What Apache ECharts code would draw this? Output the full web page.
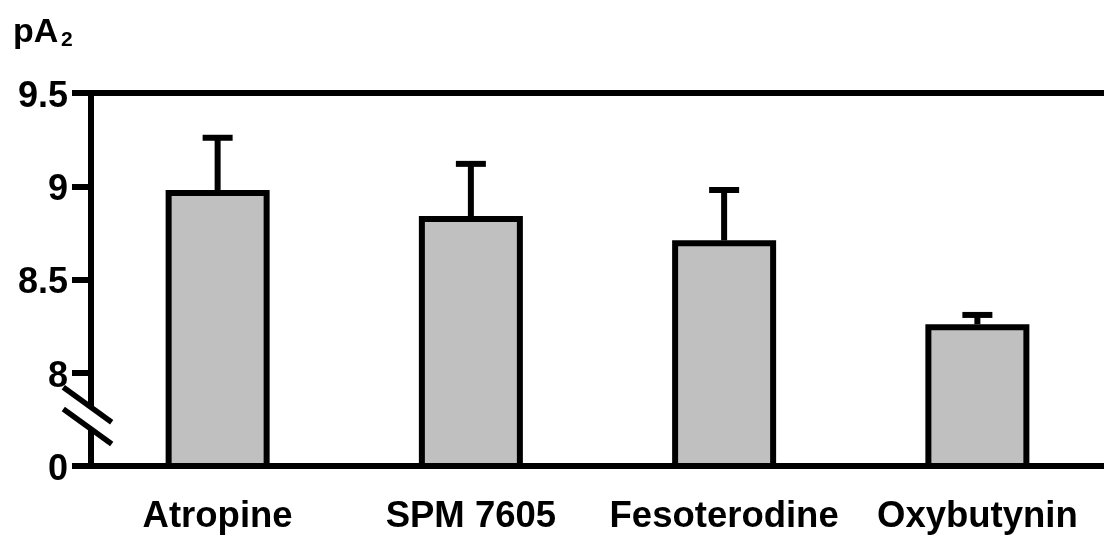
<!DOCTYPE html>
<html>
<head>
<meta charset="utf-8">
<script src="https://cdn.jsdelivr.net/npm/echarts@6/dist/echarts.min.js"></script>
<style>
html,body{margin:0;padding:0;background:#fff;}
#c{width:1104px;height:537px;}
</style>
</head>
<body>
<div id="c"></div>
<script>
const categories = ['Atropine', 'SPM 7605', 'Fesoterodine', 'Oxybutynin'];
const means = [8.98, 8.84, 8.71, 8.26];
const errTops = [9.26, 9.12, 8.98, 8.31];
const yTickLabels = {7.5: '0', 8: '8', 8.5: '8.5', 9: '9', 9.5: '9.5'};

const FONT = 'Liberation Sans, Arial, sans-serif';
const chart = echarts.init(document.getElementById('c'), null, {renderer: 'canvas'});

const errData = categories.map((c, i) => [i, means[i], errTops[i]]);

chart.setOption({
  animation: false,
  backgroundColor: '#ffffff',
  grid: {left: 91, right: -4, top: 93, bottom: 71},
  xAxis: [{
    type: 'category',
    data: categories,
    position: 'bottom',
    axisLine: {show: true, lineStyle: {color: '#000', width: 6}},
    axisTick: {show: false},
    axisLabel: {interval: 0, color: '#000', fontFamily: FONT, fontWeight: 'bold', fontSize: 36.5, margin: 32}
  }, {
    type: 'category',
    data: categories,
    position: 'top',
    axisLine: {show: true, lineStyle: {color: '#000', width: 6}},
    axisTick: {show: false},
    axisLabel: {show: false}
  }],
  yAxis: {
    type: 'value',
    min: 7.5, max: 9.5, interval: 0.5,
    axisLine: {show: true, lineStyle: {color: '#000', width: 6}},
    axisTick: {show: true, length: 19, lineStyle: {color: '#000', width: 6}},
    splitLine: {show: false},
    axisLabel: {
      margin: 23,
      formatter: v => '{t|' + (yTickLabels[v] !== undefined ? yTickLabels[v] : String(v)) + '}',
      rich: {
        t: {color: '#000', fontFamily: FONT, fontWeight: 'bold', fontSize: 36, padding: [8, 0, 0, 0]}
      }
    }
  },
  series: [{
    type: 'bar',
    data: means,
    barWidth: 104,
    itemStyle: {color: '#c0c0c0', borderColor: '#000', borderWidth: 6},
    z: 2
  }, {
    type: 'custom',
    data: errData,
    z: 3,
    renderItem: function (params, api) {
      const x = api.coord([api.value(0), api.value(1)]);
      const top = api.coord([api.value(0), api.value(2)]);
      const half = 15;
      return {
        type: 'group',
        children: [{
          type: 'line',
          shape: {x1: x[0], y1: x[1], x2: top[0], y2: top[1]},
          style: {stroke: '#000', lineWidth: 6}
        }, {
          type: 'line',
          shape: {x1: top[0] - half, y1: top[1], x2: top[0] + half, y2: top[1]},
          style: {stroke: '#000', lineWidth: 6}
        }]
      };
    }
  }]
});

// axis break decoration and y-axis title
const ax = chart.convertToPixel({gridIndex: 0}, [0, 7.77]);
const axisX = 91;
const cy = ax[1];
const dx = 24.2, dy = 17.5, gap = 10.8;
chart.setOption({
  graphic: [
    {type: 'polygon', z: 100, shape: {points: [
      [axisX - 5, cy - gap - 3.6], [axisX + 5, cy - gap + 3.6], [axisX + 5, cy + gap + 3.6], [axisX - 5, cy + gap - 3.6]
    ]}, style: {fill: '#fff'}},
    {type: 'line', z: 101, shape: {x1: axisX - 3.5 - dx, y1: cy - gap - dy, x2: axisX - 3.5 + dx, y2: cy - gap + dy}, style: {stroke: '#000', lineWidth: 5.5}},
    {type: 'line', z: 101, shape: {x1: axisX - 3.5 - dx, y1: cy + gap - dy, x2: axisX - 3.5 + dx, y2: cy + gap + dy}, style: {stroke: '#000', lineWidth: 5.5}},
    {type: 'text', z: 101, style: {text: 'pA', x: 13, y: 33, font: 'bold 34px ' + FONT, fill: '#000', verticalAlign: 'middle'}},
    {type: 'text', z: 101, style: {text: '2', x: 61, y: 40.5, font: 'bold 21px ' + FONT, fill: '#000', verticalAlign: 'middle'}}
  ]
});
</script>
</body>
</html>
